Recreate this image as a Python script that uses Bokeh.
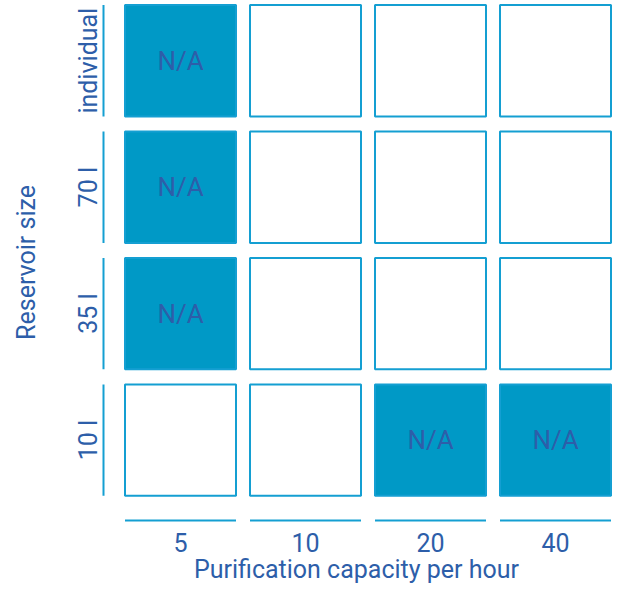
import numpy as np
from bokeh.plotting import figure
from bokeh.models import Range1d, FixedTicker, ColumnDataSource
from bokeh.core.properties import value
from bokeh.embed import file_html
from bokeh.resources import INLINE

# ---- data ----
capacities = ["5", "10", "20", "40"]                 # x categories (per hour)
reservoirs = ["10 l", "35 l", "70 l", "individual"]  # y categories
# 1 = not available (N/A, filled cell), 0 = available (empty cell)
na_10l = [0, 0, 1, 1]
na_35l = [1, 0, 0, 0]
na_70l = [1, 0, 0, 0]
na_individual = [1, 0, 0, 0]
na_rows = [na_10l, na_35l, na_70l, na_individual]

FILL = "#0099c6"
EDGE = "#149fd2"
TEXT = "#2d5ea9"
FONT = "Roboto"

xs, ys, na = [], [], []
for yi, row in enumerate(na_rows):
    for xi, v in enumerate(row):
        xs.append(xi)
        ys.append(yi)
        na.append(v)
src = ColumnDataSource(dict(
    x=xs, y=ys,
    fill=[FILL if v else "white" for v in na],
    label=["N/A" if v else "" for v in na],
))

p = figure(width=613, height=586, output_backend="svg", toolbar_location=None,
           x_range=Range1d(-0.648, 3.464), y_range=Range1d(-0.667, 3.476),
           min_border_left=99, min_border_top=0, min_border_right=0, min_border_bottom=0)

cw, ch = 0.888, 0.881
p.rect(x="x", y="y", width=cw, height=ch, source=src,
       fill_color="fill", line_color=EDGE, line_width=2)
p.text(x="x", y="y", text="label", source=src, text_align="center",
       text_baseline="middle", text_color=TEXT, text_font=value(FONT),
       text_font_size="26px")

# axis segments, one per category
n = len(capacities)
idx = np.arange(n)
p.segment(x0=idx - cw / 2, x1=idx + cw / 2, y0=[-0.635] * n, y1=[-0.635] * n,
          line_color=EDGE, line_width=2)
m = len(reservoirs)
idy = np.arange(m)
p.segment(x0=[-0.616] * m, x1=[-0.616] * m, y0=idy - ch / 2, y1=idy + ch / 2,
          line_color=EDGE, line_width=2)

p.xaxis.ticker = FixedTicker(ticks=list(range(n)))
p.xaxis.major_label_overrides = {i: c for i, c in enumerate(capacities)}
p.yaxis.ticker = FixedTicker(ticks=list(range(m)))
p.yaxis.major_label_overrides = {i: r for i, r in enumerate(reservoirs)}
p.yaxis.major_label_orientation = "vertical"

p.xaxis.axis_label = "Purification capacity per hour"
p.yaxis.axis_label = "Reservoir size"

for ax in (p.xaxis[0], p.yaxis[0]):
    ax.axis_line_color = None
    ax.major_tick_line_color = None
    ax.minor_tick_line_color = None
    ax.major_label_text_font = FONT
    ax.major_label_text_font_size = "25px"
    ax.major_label_text_color = TEXT
    ax.axis_label_text_font = FONT
    ax.axis_label_text_font_size = "25px"
    ax.axis_label_text_font_style = "normal"
    ax.axis_label_text_color = TEXT

p.xaxis.major_label_standoff = 2
p.xaxis.axis_label_standoff = 0
p.yaxis.major_label_standoff = -10
p.yaxis.axis_label_standoff = 31

p.xgrid.grid_line_color = None
p.ygrid.grid_line_color = None
p.outline_line_color = None

open("out.html", "w").write(file_html(p, INLINE))
